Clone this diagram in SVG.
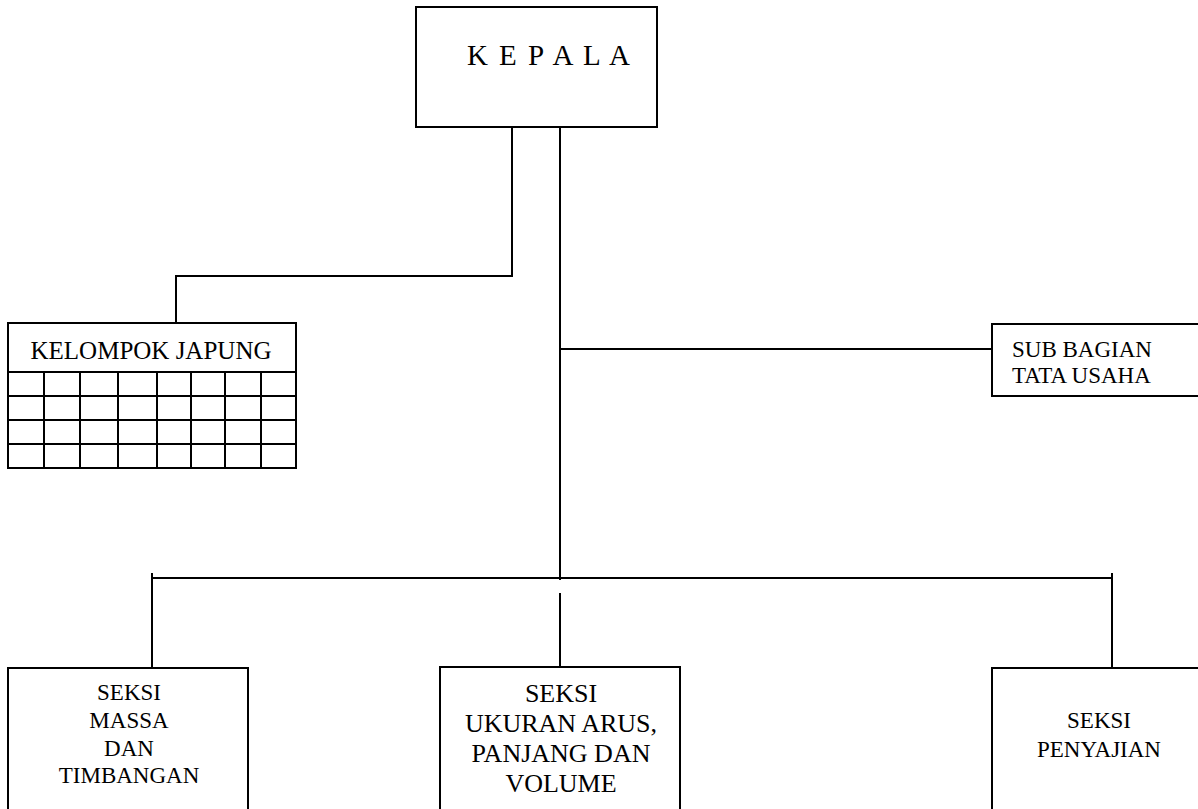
<svg xmlns="http://www.w3.org/2000/svg" width="1198" height="809" viewBox="0 0 1198 809">
  <style>
    .box { fill: #ffffff; stroke: #000000; stroke-width: 2; }
    .ln { fill: none; stroke: #000000; stroke-width: 2; }
    .grid { fill: none; stroke: #000000; stroke-width: 2; }
    .t { font-family: Liberation Serif, Times New Roman, Times, DejaVu Serif, serif; fill: #000000; }
    .c { text-anchor: middle; }
  </style>
  <rect x="0" y="0" width="1198" height="809" fill="#ffffff"/>

  <!-- connectors -->
  <g id="connectors">
    <!-- head to working group -->
    <polyline class="ln" points="512,127 512,276 176,276 176,323"/>
    <!-- main spine -->
    <line class="ln" x1="560" y1="127" x2="560" y2="580"/>
    <!-- spine to administration -->
    <line class="ln" x1="560" y1="349" x2="992" y2="349"/>
    <!-- section bus -->
    <line class="ln" x1="152" y1="578" x2="1112" y2="578"/>
    <line class="ln" x1="152" y1="573" x2="152" y2="668"/>
    <line class="ln" x1="1112" y1="573" x2="1112" y2="669"/>
    <line class="ln" x1="560" y1="593" x2="560" y2="667"/>
  </g>

  <!-- head -->
  <g id="kepala">
    <rect class="box" x="416" y="7" width="241" height="120"/>
    <text class="t" x="467" y="65" font-size="29" textLength="163" lengthAdjust="spacing">K E P A L A</text>
  </g>

  <!-- working group with member grid -->
  <g id="kelompok-japung">
    <rect class="box" x="8" y="323" width="288" height="145"/>
    <line class="grid" x1="8" y1="372" x2="296" y2="372"/>
    <line class="grid" x1="8" y1="396" x2="296" y2="396"/>
    <line class="grid" x1="8" y1="420" x2="296" y2="420"/>
    <line class="grid" x1="8" y1="444" x2="296" y2="444"/>
    <line class="grid" x1="44" y1="372" x2="44" y2="468"/>
    <line class="grid" x1="80" y1="372" x2="80" y2="468"/>
    <line class="grid" x1="118" y1="372" x2="118" y2="468"/>
    <line class="grid" x1="157" y1="372" x2="157" y2="468"/>
    <line class="grid" x1="191" y1="372" x2="191" y2="468"/>
    <line class="grid" x1="225" y1="372" x2="225" y2="468"/>
    <line class="grid" x1="261" y1="372" x2="261" y2="468"/>
    <text class="t c" x="151" y="359" font-size="25">KELOMPOK JAPUNG</text>
  </g>

  <!-- administration -->
  <g id="sub-bagian">
    <rect class="box" x="992" y="324" width="212" height="72"/>
    <text class="t" x="1012" y="357" font-size="23">SUB BAGIAN</text>
    <text class="t" x="1012" y="383" font-size="23">TATA USAHA</text>
  </g>

  <!-- sections -->
  <g id="seksi-massa">
    <rect class="box" x="8" y="668" width="240" height="160"/>
    <text class="t c" x="129" y="700" font-size="23">SEKSI</text>
    <text class="t c" x="129" y="728" font-size="23">MASSA</text>
    <text class="t c" x="129" y="756" font-size="23">DAN</text>
    <text class="t c" x="129" y="783" font-size="23">TIMBANGAN</text>
  </g>

  <g id="seksi-ukuran">
    <rect class="box" x="440" y="667" width="240" height="160"/>
    <text class="t c" x="561" y="702" font-size="26">SEKSI</text>
    <text class="t c" x="561" y="732" font-size="26">UKURAN ARUS,</text>
    <text class="t c" x="561" y="762" font-size="26">PANJANG DAN</text>
    <text class="t c" x="561" y="792" font-size="26">VOLUME</text>
  </g>

  <g id="seksi-penyajian">
    <rect class="box" x="992" y="668" width="214" height="160"/>
    <text class="t c" x="1099" y="728" font-size="23">SEKSI</text>
    <text class="t c" x="1099" y="757" font-size="23">PENYAJIAN</text>
  </g>
</svg>
